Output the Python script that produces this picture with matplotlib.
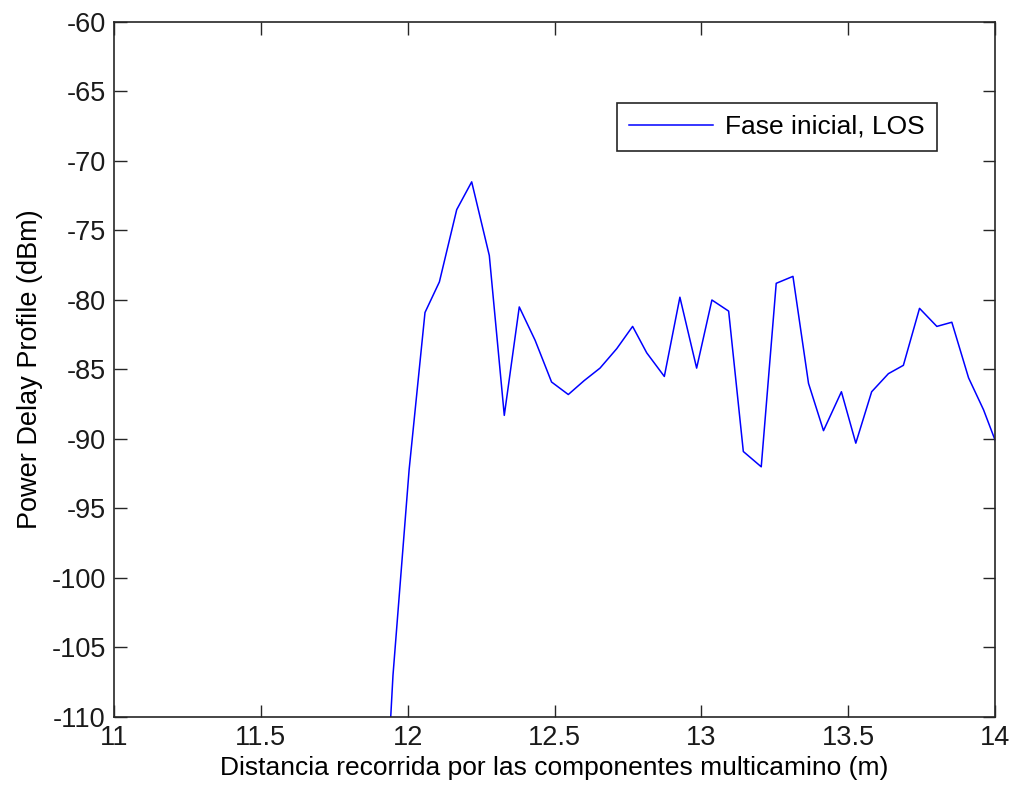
import numpy as np
import matplotlib.pyplot as plt

plt.rcParams['font.family'] = ['Liberation Sans', 'DejaVu Sans']
plt.rcParams['axes.unicode_minus'] = False

# distance (m) and power delay profile (dBm)
distance_m = [
    11.896, 11.950, 12.005, 12.059, 12.108, 12.167, 12.218, 12.278, 12.329,
    12.380, 12.434, 12.490, 12.547, 12.601, 12.655, 12.712, 12.766, 12.814,
    12.874, 12.927, 12.984, 13.036, 13.093, 13.143, 13.204, 13.255, 13.312,
    13.365, 13.416, 13.477, 13.526, 13.580, 13.637, 13.688, 13.743, 13.802,
    13.853, 13.910, 13.961, 14.015,
]
pdp_dbm = [
    -128.0, -107.0, -92.2, -80.9, -78.7, -73.5, -71.5, -76.8, -88.3,
    -80.5, -82.9, -85.9, -86.8, -85.8, -84.9, -83.5, -81.9, -83.8,
    -85.5, -79.8, -84.9, -80.0, -80.8, -90.9, -92.0, -78.8, -78.3,
    -86.0, -89.4, -86.6, -90.3, -86.6, -85.3, -84.7, -80.6, -81.9,
    -81.6, -85.6, -87.9, -90.9,
]
series_label = 'Fase inicial, LOS'

x_ticks = [11, 11.5, 12, 12.5, 13, 13.5, 14]
x_tick_labels = ['11', '11.5', '12', '12.5', '13', '13.5', '14']
y_ticks = list(range(-110, -59, 5))

fig = plt.figure(figsize = [10.12, 7.91], dpi = 100)
ax = fig.add_axes([114 / 1012, 1 - 717 / 791, 881 / 1012, 695 / 791])

ax.plot(distance_m, pdp_dbm, color = '#0000ff', linewidth = 1.1, label = series_label)

ax.set_xlim([11, 14])
ax.set_ylim([-110, -60])
ax.set_xticks(x_ticks)
ax.set_xticklabels(x_tick_labels)
ax.set_yticks(y_ticks)
ax.tick_params(direction = 'in', length = 9, width = 1, top = True, right = True,
               labelsize = 19.5, pad = 6, colors = '#262626', labelcolor = '#1a1a1a')
for sp in ax.spines.values():
    sp.set_color('#262626')
    sp.set_linewidth(1.2)

ax.set_xlabel('Distancia recorrida por las componentes multicamino (m)', fontsize = 19, labelpad = 3)
ax.set_ylabel('Power Delay Profile (dBm)', fontsize = 19.5, labelpad = 6)

leg = ax.legend(loc = 'upper right', bbox_to_anchor = (0.934, 0.8835), borderaxespad = 0,
                fontsize = 19, fancybox = False, framealpha = 1, handlelength = 3.2,
                handletextpad = 0.45, borderpad = 0.45)
leg.get_frame().set_edgecolor('#262626')
leg.get_frame().set_linewidth(1.2)

fig.savefig('out.png', dpi = 100)
